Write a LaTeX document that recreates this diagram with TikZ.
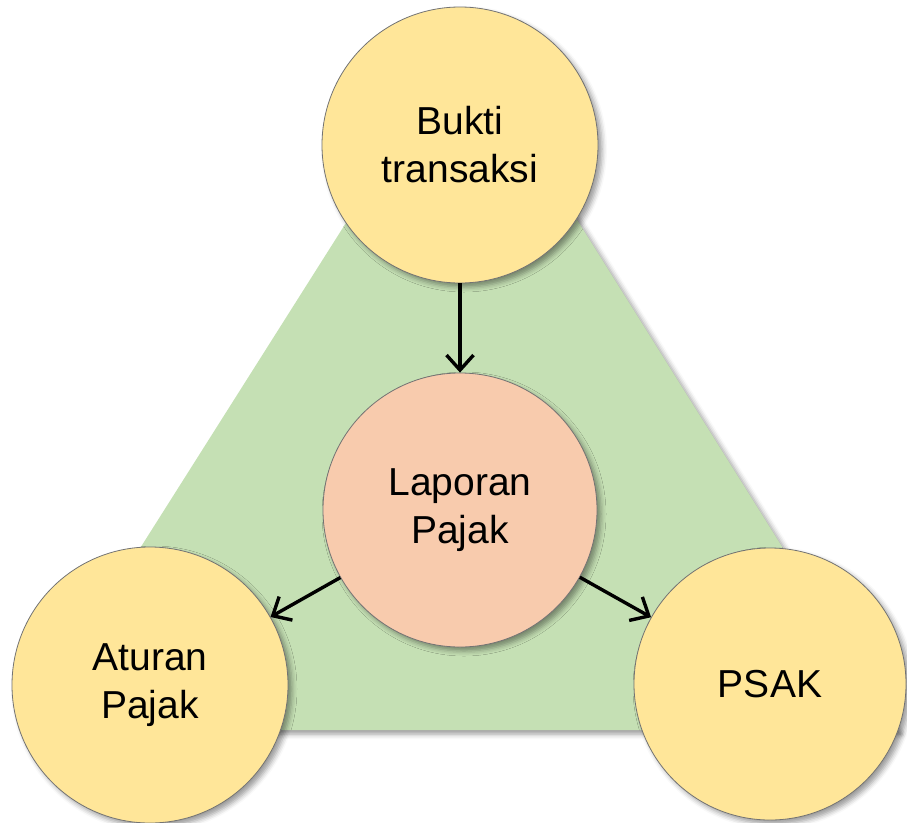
\documentclass[tikz,border=0pt]{standalone}
\usepackage{fontspec}
\setmainfont{Liberation Sans}
\usetikzlibrary{arrows.meta,shadows.blur}
\definecolor{goldlite}{HTML}{FFE699}
\definecolor{peach}{HTML}{F8CBAD}
\definecolor{greenlite}{HTML}{C5E0B4}

\begin{document}
\begin{tikzpicture}[x=1pt,y=-1pt,
  soft/.style={blur shadow={shadow xshift=4pt,shadow yshift=-4pt,shadow blur radius=5pt,shadow opacity=40}},
  ring/.style={circle,draw=black!55,line width=0.8pt,fill=goldlite,minimum size=276pt,inner sep=0pt,
    align=center,font=\fontsize{39}{48}\selectfont,soft},
  flow/.style={-{Straight Barb[length=15pt,width=27pt]},line width=3.4pt}]
\useasboundingbox (0,0) rectangle (907,822);
\fill[greenlite,soft] (463,38) -- (25,730) -- (897,730) -- cycle;
\node[ring] (btk) at (460,145) {Bukti\\transaksi};
\node[ring,fill=peach,minimum size=274pt] (lap) at (460,510) {Laporan\\Pajak};
\node[ring] (atu) at (150,685) {Aturan\\Pajak};
\node[ring,minimum size=272pt] (psk) at (770,684) {PSAK};

\draw[flow] (btk) -- (lap);
\draw[flow] (lap) -- (atu);
\draw[flow] (lap) -- (psk);
\end{tikzpicture}
\end{document}
